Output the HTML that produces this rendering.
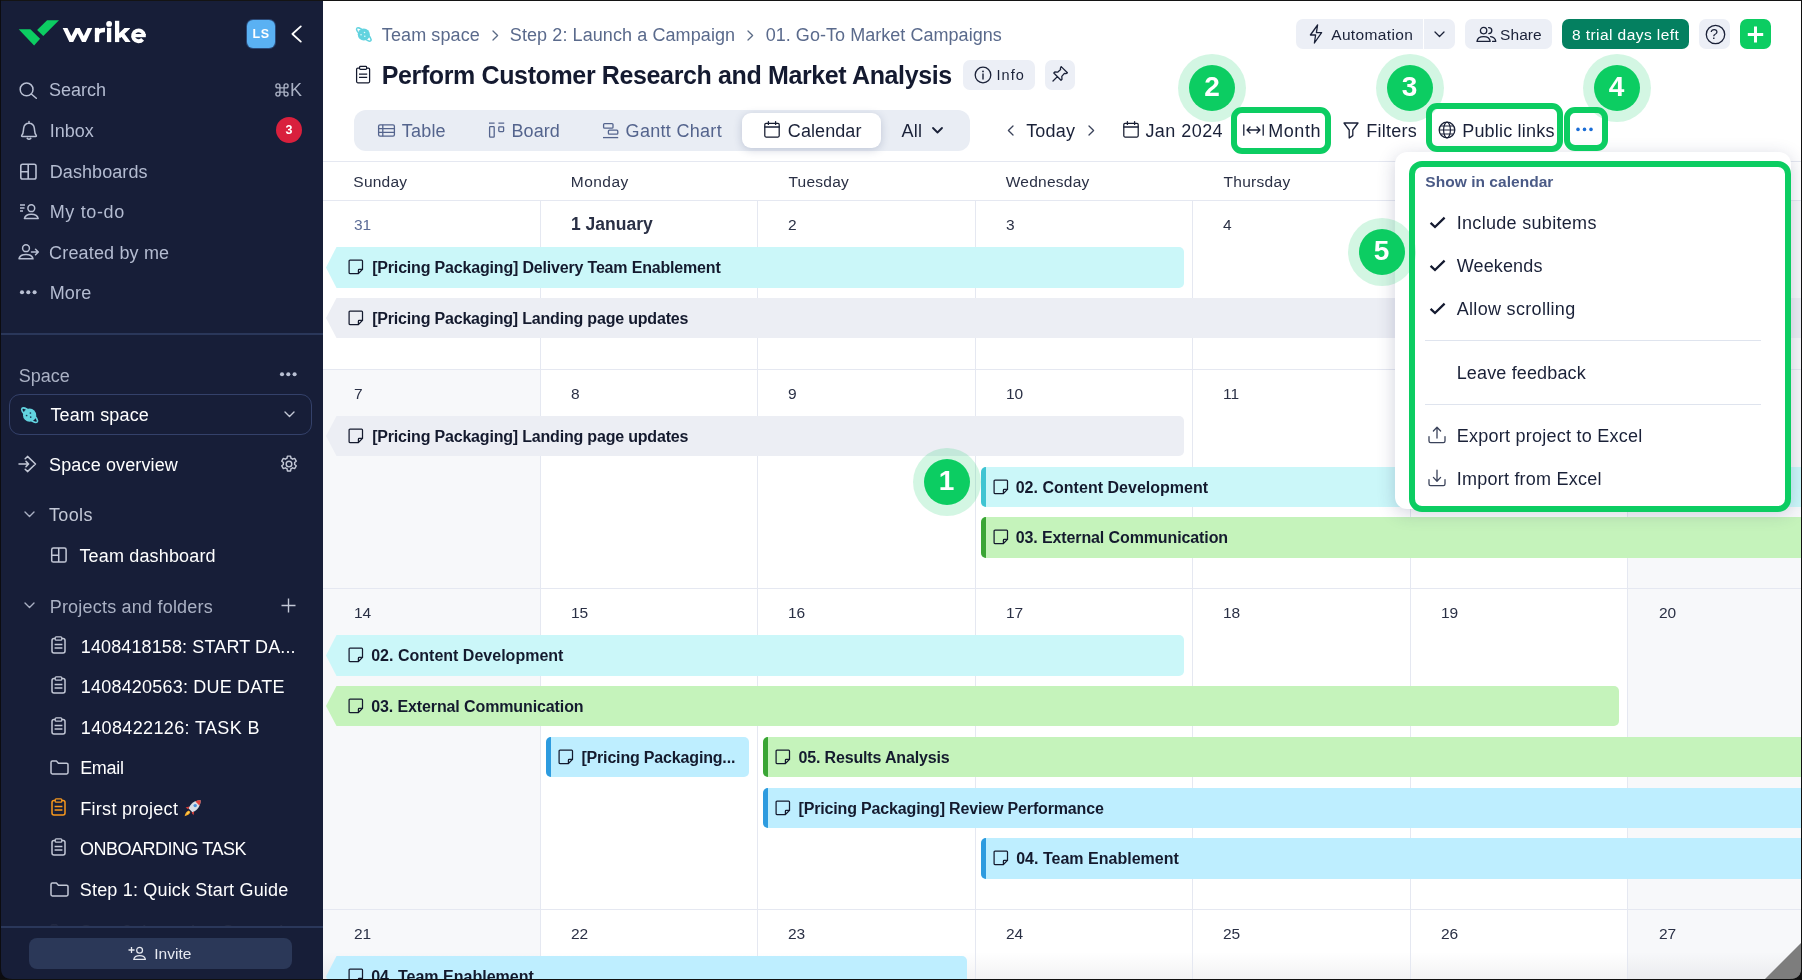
<!DOCTYPE html>
<html>
<head>
<meta charset="utf-8">
<title>Wrike</title>
<style>
*{box-sizing:border-box;margin:0;padding:0}
html,body{width:1802px;height:980px;overflow:hidden;background:#fff}
body{font-family:"Liberation Sans",sans-serif;position:relative;color:#1a2138}
.abs{position:absolute}
svg{display:block;overflow:visible}
.t{position:absolute;white-space:nowrap;line-height:1}
/* SIDEBAR */
#sb{will-change:transform;position:absolute;left:0;top:0;width:323px;height:980px;background:#171e38;overflow:hidden}
#sb .nav{position:absolute;left:49px;font-size:18px;color:#b4bcd1;white-space:nowrap;line-height:22px}
#sb .ni{position:absolute;left:19px}
#sb .it{position:absolute;left:80px;font-size:18px;color:#fff;white-space:nowrap;line-height:22px}
#sb .ii{position:absolute;left:50px}
/* MAIN */
#main{will-change:transform;position:absolute;left:0;top:0;width:1802px;height:980px;background:#fff;overflow:hidden}
.btn{position:absolute;background:#eceff6;border-radius:7px;height:30px}
.crumb{position:absolute;font-size:18px;color:#5a6a8c;white-space:nowrap;line-height:22px;top:24px}
.tab{position:absolute;font-size:18px;color:#54648d;white-space:nowrap;line-height:22px;top:120px}
.tb{position:absolute;font-size:18px;color:#1a2138;white-space:nowrap;line-height:22px;top:120px}
.wd{position:absolute;font-size:15.5px;color:#2a3045;white-space:nowrap;line-height:18px;top:173px}
.dn{position:absolute;font-size:15.5px;color:#2a3045;white-space:nowrap;line-height:18px}
.vl{position:absolute;width:1px;background:#e5e8f1;top:200px;height:780px}
.hl{position:absolute;height:1px;background:#e5e8f1;left:323px;width:1479px}
.ev{position:absolute;height:40px;font-size:16px;font-weight:bold;color:#141a2e;white-space:nowrap;line-height:42px;overflow:hidden}
.ev .ic{position:absolute;top:12px}
.ev .tx{position:absolute;top:0}
.cy{background:#cbf7f9}.gy{background:#eceef4}.gr{background:#c5f3bb}.bl{background:#beeeff}
.arrow{clip-path:polygon(10.5px 0,100% 0,100% 100%,10.5px 100%,0 50%)}
.rr{border-top-right-radius:5px;border-bottom-right-radius:5px}
.rl{border-top-left-radius:5px;border-bottom-left-radius:5px}
.num{position:absolute;width:68px;height:68px;border-radius:50%;background:rgba(12,206,98,.18)}
.num i{position:absolute;left:11px;top:11px;width:46px;height:46px;border-radius:50%;background:#0ccd62;color:#fff;font-style:normal;font-weight:bold;font-size:28px;line-height:44px;text-align:center}
.gbox{position:absolute;border:6px solid #0ccd62;border-radius:11px}
.mi{position:absolute;left:1457px;font-size:18px;color:#1a2138;white-space:nowrap;line-height:22px}
</style>
</head>
<body>
<div id="main">
<!-- weekend column tint -->
<div class="abs" style="left:323px;top:370px;width:217px;height:610px;background:#f7f8fa"></div>
<div class="abs" style="left:1628px;top:200px;width:174px;height:780px;background:#f7f8fa"></div>
<div class="abs" style="left:323px;top:952px;width:1479px;height:28px;background:linear-gradient(rgba(20,20,40,0),rgba(20,20,40,.055))"></div>
<!-- grid lines -->
<div class="hl" style="top:161px"></div>
<div class="hl" style="top:200px"></div>
<div class="hl" style="top:369px"></div>
<div class="hl" style="top:588px"></div>
<div class="hl" style="top:909px"></div>
<div class="vl" style="left:540px"></div>
<div class="vl" style="left:757px"></div>
<div class="vl" style="left:975px"></div>
<div class="vl" style="left:1192px"></div>
<div class="vl" style="left:1410px"></div>
<div class="vl" style="left:1627px"></div>
<div class="wd" style="left: 353.3px; letter-spacing: 0.24px;">Sunday</div>
<div class="wd" style="left: 570.8px; letter-spacing: 0.47px;">Monday</div>
<div class="wd" style="left: 788.4px; letter-spacing: 0.25px;">Tuesday</div>
<div class="wd" style="left: 1005.7px; letter-spacing: 0.26px;">Wednesday</div>
<div class="wd" style="left: 1223.5px; letter-spacing: 0.3px;">Thursday</div>
<div class="dn" style="left:354px;top:216px;color:#5b6b96">31</div>
<div class="dn" style="left:571px;top:216px;font-weight:bold;font-size:17.5px;top:215px">1 January</div>
<div class="dn" style="left:788px;top:216px">2</div>
<div class="dn" style="left:1006px;top:216px">3</div>
<div class="dn" style="left:1223px;top:216px">4</div>
<div class="dn" style="left:354px;top:385px">7</div>
<div class="dn" style="left:571px;top:385px">8</div>
<div class="dn" style="left:788px;top:385px">9</div>
<div class="dn" style="left:1006px;top:385px">10</div>
<div class="dn" style="left:1223px;top:385px">11</div>
<div class="dn" style="left:354px;top:604px">14</div>
<div class="dn" style="left:571px;top:604px">15</div>
<div class="dn" style="left:788px;top:604px">16</div>
<div class="dn" style="left:1006px;top:604px">17</div>
<div class="dn" style="left:1223px;top:604px">18</div>
<div class="dn" style="left:1441px;top:604px">19</div>
<div class="dn" style="left:1659px;top:604px">20</div>
<div class="dn" style="left:354px;top:925px">21</div>
<div class="dn" style="left:571px;top:925px">22</div>
<div class="dn" style="left:788px;top:925px">23</div>
<div class="dn" style="left:1006px;top:925px">24</div>
<div class="dn" style="left:1223px;top:925px">25</div>
<div class="dn" style="left:1441px;top:925px">26</div>
<div class="dn" style="left:1659px;top:925px">27</div>
<div class="ev cy arrow rr" style="left:326px;top:247px;width:858px;height:41px"><svg class="ic" style="left:22px" width="16" height="16" viewBox="0 0 16 16"><path d="M2 1.1 H13.6 Q14.5 1.1 14.5 2 V10.4 L10.4 14.5 H2 Q1.1 14.5 1.1 13.6 V2 Q1.1 1.1 2 1.1 Z" fill="none" stroke="#141a2e" stroke-width="1.25" stroke-linejoin="round"/><path d="M14.4 10.4 H11.2 Q10.4 10.4 10.4 11.2 V14.4" fill="none" stroke="#141a2e" stroke-width="1.25"/></svg><div class="tx" style="left: 46.2px; letter-spacing: -0.18px;">[Pricing Packaging] Delivery Team Enablement</div></div>
<div class="ev gy arrow" style="left:326px;top:298px;width:1476px;height:40px"><svg class="ic" style="left:22px" width="16" height="16" viewBox="0 0 16 16"><path d="M2 1.1 H13.6 Q14.5 1.1 14.5 2 V10.4 L10.4 14.5 H2 Q1.1 14.5 1.1 13.6 V2 Q1.1 1.1 2 1.1 Z" fill="none" stroke="#141a2e" stroke-width="1.25" stroke-linejoin="round"/><path d="M14.4 10.4 H11.2 Q10.4 10.4 10.4 11.2 V14.4" fill="none" stroke="#141a2e" stroke-width="1.25"/></svg><div class="tx" style="left: 46.2px; letter-spacing: -0.19px;">[Pricing Packaging] Landing page updates</div></div>
<div class="ev gy arrow rr" style="left:326px;top:416px;width:858px;height:40px"><svg class="ic" style="left:22px" width="16" height="16" viewBox="0 0 16 16"><path d="M2 1.1 H13.6 Q14.5 1.1 14.5 2 V10.4 L10.4 14.5 H2 Q1.1 14.5 1.1 13.6 V2 Q1.1 1.1 2 1.1 Z" fill="none" stroke="#141a2e" stroke-width="1.25" stroke-linejoin="round"/><path d="M14.4 10.4 H11.2 Q10.4 10.4 10.4 11.2 V14.4" fill="none" stroke="#141a2e" stroke-width="1.25"/></svg><div class="tx" style="left: 46.2px; letter-spacing: -0.19px;">[Pricing Packaging] Landing page updates</div></div>
<div class="ev cy rl" style="left:981px;top:467px;width:821px;height:40px"><div class="abs" style="left:0;top:0;width:5px;height:100%;background:#3fc4d2"></div><svg class="ic" style="left:12px" width="16" height="16" viewBox="0 0 16 16"><path d="M2 1.1 H13.6 Q14.5 1.1 14.5 2 V10.4 L10.4 14.5 H2 Q1.1 14.5 1.1 13.6 V2 Q1.1 1.1 2 1.1 Z" fill="none" stroke="#141a2e" stroke-width="1.25" stroke-linejoin="round"/><path d="M14.4 10.4 H11.2 Q10.4 10.4 10.4 11.2 V14.4" fill="none" stroke="#141a2e" stroke-width="1.25"/></svg><div class="tx" style="left: 34.7px; letter-spacing: 0.02px;">02. Content Development</div></div>
<div class="ev gr rl" style="left:981px;top:517px;width:821px;height:41px"><div class="abs" style="left:0;top:0;width:5px;height:100%;background:#3aa535"></div><svg class="ic" style="left:12px" width="16" height="16" viewBox="0 0 16 16"><path d="M2 1.1 H13.6 Q14.5 1.1 14.5 2 V10.4 L10.4 14.5 H2 Q1.1 14.5 1.1 13.6 V2 Q1.1 1.1 2 1.1 Z" fill="none" stroke="#141a2e" stroke-width="1.25" stroke-linejoin="round"/><path d="M14.4 10.4 H11.2 Q10.4 10.4 10.4 11.2 V14.4" fill="none" stroke="#141a2e" stroke-width="1.25"/></svg><div class="tx" style="left: 34.7px; letter-spacing: -0.11px;">03. External Communication</div></div>
<div class="ev cy arrow rr" style="left:326px;top:635px;width:858px;height:41px"><svg class="ic" style="left:22px" width="16" height="16" viewBox="0 0 16 16"><path d="M2 1.1 H13.6 Q14.5 1.1 14.5 2 V10.4 L10.4 14.5 H2 Q1.1 14.5 1.1 13.6 V2 Q1.1 1.1 2 1.1 Z" fill="none" stroke="#141a2e" stroke-width="1.25" stroke-linejoin="round"/><path d="M14.4 10.4 H11.2 Q10.4 10.4 10.4 11.2 V14.4" fill="none" stroke="#141a2e" stroke-width="1.25"/></svg><div class="tx" style="left: 45.2px; letter-spacing: 0.01px;">02. Content Development</div></div>
<div class="ev gr arrow rr" style="left:326px;top:686px;width:1293px;height:40px"><svg class="ic" style="left:22px" width="16" height="16" viewBox="0 0 16 16"><path d="M2 1.1 H13.6 Q14.5 1.1 14.5 2 V10.4 L10.4 14.5 H2 Q1.1 14.5 1.1 13.6 V2 Q1.1 1.1 2 1.1 Z" fill="none" stroke="#141a2e" stroke-width="1.25" stroke-linejoin="round"/><path d="M14.4 10.4 H11.2 Q10.4 10.4 10.4 11.2 V14.4" fill="none" stroke="#141a2e" stroke-width="1.25"/></svg><div class="tx" style="left: 45.2px; letter-spacing: -0.11px;">03. External Communication</div></div>
<div class="ev bl rr rl" style="left:546px;top:737px;width:203px;height:40px"><div class="abs" style="left:0;top:0;width:5px;height:100%;background:#2d9bdf"></div><svg class="ic" style="left:12px" width="16" height="16" viewBox="0 0 16 16"><path d="M2 1.1 H13.6 Q14.5 1.1 14.5 2 V10.4 L10.4 14.5 H2 Q1.1 14.5 1.1 13.6 V2 Q1.1 1.1 2 1.1 Z" fill="none" stroke="#141a2e" stroke-width="1.25" stroke-linejoin="round"/><path d="M14.4 10.4 H11.2 Q10.4 10.4 10.4 11.2 V14.4" fill="none" stroke="#141a2e" stroke-width="1.25"/></svg><div class="tx" style="left: 35.4px; letter-spacing: -0.17px;">[Pricing Packaging...</div></div>
<div class="ev gr rl" style="left:763px;top:737px;width:1039px;height:40px"><div class="abs" style="left:0;top:0;width:5px;height:100%;background:#3aa535"></div><svg class="ic" style="left:12px" width="16" height="16" viewBox="0 0 16 16"><path d="M2 1.1 H13.6 Q14.5 1.1 14.5 2 V10.4 L10.4 14.5 H2 Q1.1 14.5 1.1 13.6 V2 Q1.1 1.1 2 1.1 Z" fill="none" stroke="#141a2e" stroke-width="1.25" stroke-linejoin="round"/><path d="M14.4 10.4 H11.2 Q10.4 10.4 10.4 11.2 V14.4" fill="none" stroke="#141a2e" stroke-width="1.25"/></svg><div class="tx" style="left: 35.5px; letter-spacing: -0.16px;">05. Results Analysis</div></div>
<div class="ev bl rl" style="left:763px;top:788px;width:1039px;height:40px"><div class="abs" style="left:0;top:0;width:5px;height:100%;background:#2d9bdf"></div><svg class="ic" style="left:12px" width="16" height="16" viewBox="0 0 16 16"><path d="M2 1.1 H13.6 Q14.5 1.1 14.5 2 V10.4 L10.4 14.5 H2 Q1.1 14.5 1.1 13.6 V2 Q1.1 1.1 2 1.1 Z" fill="none" stroke="#141a2e" stroke-width="1.25" stroke-linejoin="round"/><path d="M14.4 10.4 H11.2 Q10.4 10.4 10.4 11.2 V14.4" fill="none" stroke="#141a2e" stroke-width="1.25"/></svg><div class="tx" style="left: 35.5px; letter-spacing: -0.16px;">[Pricing Packaging] Review Performance</div></div>
<div class="ev bl rl" style="left:981px;top:838px;width:821px;height:41px"><div class="abs" style="left:0;top:0;width:5px;height:100%;background:#2d9bdf"></div><svg class="ic" style="left:12px" width="16" height="16" viewBox="0 0 16 16"><path d="M2 1.1 H13.6 Q14.5 1.1 14.5 2 V10.4 L10.4 14.5 H2 Q1.1 14.5 1.1 13.6 V2 Q1.1 1.1 2 1.1 Z" fill="none" stroke="#141a2e" stroke-width="1.25" stroke-linejoin="round"/><path d="M14.4 10.4 H11.2 Q10.4 10.4 10.4 11.2 V14.4" fill="none" stroke="#141a2e" stroke-width="1.25"/></svg><div class="tx" style="left: 35.2px; letter-spacing: 0.01px;">04. Team Enablement</div></div>
<div class="ev bl arrow rr" style="left:326px;top:956px;width:641px;height:41px"><svg class="ic" style="left:22px" width="16" height="16" viewBox="0 0 16 16"><path d="M2 1.1 H13.6 Q14.5 1.1 14.5 2 V10.4 L10.4 14.5 H2 Q1.1 14.5 1.1 13.6 V2 Q1.1 1.1 2 1.1 Z" fill="none" stroke="#141a2e" stroke-width="1.25" stroke-linejoin="round"/><path d="M14.4 10.4 H11.2 Q10.4 10.4 10.4 11.2 V14.4" fill="none" stroke="#141a2e" stroke-width="1.25"/></svg><div class="tx" style="left: 45.2px; letter-spacing: 0.01px;">04. Team Enablement</div></div>
<svg class="abs" style="left:355px;top:26px" width="16.5" height="16.5" viewBox="0 0 18 18"><ellipse cx="9.6" cy="9.2" rx="10.2" ry="3.1" transform="rotate(42 9.6 9.2)" fill="none" stroke="#62d3df" stroke-width="1.5"/><circle cx="9.6" cy="9.2" r="6.6" fill="#62d3df"/><circle cx="10.4" cy="7" r="0.85" fill="#e8fafc"/><circle cx="6.6" cy="9.5" r="0.85" fill="#e8fafc"/><circle cx="10.7" cy="11.1" r="0.85" fill="#e8fafc"/></svg><div class="crumb" style="left: 381.8px; letter-spacing: 0.11px;">Team space</div><svg class="abs" style="left:492px;top:30px" width="7" height="11" viewBox="0 0 7 11"><path d="M1 1 L5.6 5.5 L1 10" fill="none" stroke="#5b6b86" stroke-width="1.3" stroke-linecap="round" stroke-linejoin="round"/></svg><div class="crumb" style="left: 509.8px; letter-spacing: 0.09px;">Step 2: Launch a Campaign</div><svg class="abs" style="left:747px;top:30px" width="7" height="11" viewBox="0 0 7 11"><path d="M1 1 L5.6 5.5 L1 10" fill="none" stroke="#5b6b86" stroke-width="1.3" stroke-linecap="round" stroke-linejoin="round"/></svg><div class="crumb" style="left: 765.7px; letter-spacing: 0.04px;">01. Go-To Market Campaigns</div><svg class="abs" style="left:355px;top:65px" width="16" height="19" viewBox="0 0 16 19"><rect x="1.6" y="3" width="13" height="14.8" rx="1.2" fill="none" stroke="#141a2e" stroke-width="1.25"/><rect x="4.6" y="1.4" width="7" height="3" rx="0.8" fill="#fff" stroke="#141a2e" stroke-width="1.2"/><path d="M4 9 H12.2 M4 12.4 H12.2" stroke="#141a2e" stroke-width="1.25"/></svg><div class="t" style="left: 381.7px; top: 63px; font-size: 25px; letter-spacing: -0.37px; font-weight: bold; color: rgb(20, 26, 48);">Perform Customer Research and Market Analysis</div><div class="btn" style="left:963px;top:59.5px;width:72px"></div><svg class="abs" style="left:974px;top:66px" width="18" height="18" viewBox="0 0 18 18"><circle cx="9" cy="9" r="7.8" fill="none" stroke="#1a2138" stroke-width="1.3"/><path d="M9 8 V13" stroke="#1a2138" stroke-width="1.4" stroke-linecap="round"/><circle cx="9" cy="5.4" r="0.9" fill="#1a2138"/></svg><div class="t" style="left: 996.5px; top: 68px; font-size: 14.5px; color: rgb(26, 33, 56); letter-spacing: 1.08px;">Info</div><div class="btn" style="left:1045px;top:59.5px;width:30px"></div><svg class="abs" style="left:1051px;top:65px" width="18" height="19" viewBox="0 0 18 19"><path d="M10.2 1.6 L16.4 7.8 L14.8 8.6 L13.4 8.4 L10.8 11.4 L11 14.2 L10 15.2 L2.8 8 L3.8 7 L6.6 7.2 L9.6 4.6 L9.4 3.2 Z M6.4 11.6 L2 16" fill="none" stroke="#1a2138" stroke-width="1.3" stroke-linejoin="round" stroke-linecap="round"/></svg><div class="btn" style="left:1296px;top:19px;width:127px;border-radius:7px 0 0 7px"></div><div class="btn" style="left:1424px;top:19px;width:31px;border-radius:0 7px 7px 0"></div><svg class="abs" style="left:1309px;top:24px" width="14" height="20" viewBox="0 0 14 20"><path d="M8.6 1 L1.4 11 H6.6 L5.4 19 L12.6 8.6 H7.4 Z" fill="none" stroke="#1a2138" stroke-width="1.3" stroke-linejoin="round"/></svg><div class="t" style="left: 1331.2px; top: 27px; font-size: 15.5px; color: rgb(26, 33, 56); letter-spacing: 0.36px;">Automation</div><svg class="abs" style="left:1434px;top:31px" width="11" height="7" viewBox="0 0 11 7"><path d="M1 1 L5.5 5.5 L10 1" fill="none" stroke="#1a2138" stroke-width="1.3" stroke-linecap="round" stroke-linejoin="round"/></svg><div class="btn" style="left:1465px;top:19px;width:87px"></div><svg class="abs" style="left:1476px;top:26px" width="21" height="17" viewBox="0 0 21 17"><circle cx="7.6" cy="4.6" r="3.2" fill="none" stroke="#1a2138" stroke-width="1.3"/><path d="M1 15.4 C1.4 12 4.2 10.6 7.6 10.6 C11 10.6 13.8 12 14.2 15.4 Z" fill="none" stroke="#1a2138" stroke-width="1.3" stroke-linejoin="round"/><path d="M12.6 1.6 C14.6 1.6 15.8 3 15.8 4.6 C15.8 6.2 14.6 7.6 12.8 7.6 M14.6 10.6 C17.4 11 19.4 12.4 19.8 15.4 H16.6" fill="none" stroke="#1a2138" stroke-width="1.3" stroke-linecap="round" stroke-linejoin="round"/></svg><div class="t" style="left: 1500px; top: 27px; font-size: 15.5px; color: rgb(26, 33, 56); letter-spacing: 0.09px;">Share</div><div class="btn" style="left:1562px;top:19px;width:127px;background:#048060"></div><div class="t" style="left: 1571.9px; top: 27px; font-size: 15.5px; color: rgb(255, 255, 255); letter-spacing: 0.44px;">8 trial days left</div><div class="btn" style="left:1699px;top:19px;width:31px"></div><svg class="abs" style="left:1704.5px;top:23.5px" width="21" height="21" viewBox="0 0 21 21"><circle cx="10.5" cy="10.5" r="9.2" fill="none" stroke="#1a2138" stroke-width="1.3"/></svg><div class="t" style="left:1710px;top:27px;font-size:14.5px;color:#1a2138">?</div><div class="btn" style="left:1740px;top:19px;width:31px;background:#0ccd62"></div><svg class="abs" style="left:1747px;top:25.5px" width="17" height="17" viewBox="0 0 17 17"><path d="M8.5 0.6 V16.4 M0.8 8.5 H16.2" stroke="#fff" stroke-width="3"/></svg><div class="abs" style="left:354px;top:110px;width:616px;height:41px;border-radius:12px;background:#e9edf4"></div><div class="abs" style="left:742px;top:113px;width:139px;height:35px;border-radius:9px;background:#fff;box-shadow:0 2px 8px rgba(40,60,110,.22)"></div><svg class="abs" style="left:377px;top:123px" width="19" height="15" viewBox="0 0 19 15"><rect x="1.6" y="1.8" width="15.8" height="11.4" rx="1.4" fill="none" stroke="#54648d" stroke-width="1.3"/><path d="M1.6 5.6 H17.4 M1.6 9.4 H17.4 M5.8 1.8 V13.2" stroke="#54648d" stroke-width="1.3"/></svg><div class="tab" style="left: 401.8px; letter-spacing: 0.19px;">Table</div><svg class="abs" style="left:488px;top:122px" width="18" height="17" viewBox="0 0 18 17"><path d="M1 1.2 H6.6 M10.4 1.2 H16.2" stroke="#54648d" stroke-width="1.3"/><rect x="1.6" y="4.6" width="4.6" height="10.6" rx="0.8" fill="none" stroke="#54648d" stroke-width="1.3"/><rect x="10.8" y="4.8" width="4.8" height="4.8" rx="0.8" fill="none" stroke="#54648d" stroke-width="1.3"/></svg><div class="tab" style="left: 511.4px; letter-spacing: 0.11px;">Board</div><svg class="abs" style="left:602px;top:122px" width="18" height="17" viewBox="0 0 18 17"><rect x="1.6" y="1.6" width="9.4" height="4.6" rx="1" fill="none" stroke="#54648d" stroke-width="1.3"/><rect x="6.4" y="8.2" width="9.4" height="4" rx="1" fill="none" stroke="#54648d" stroke-width="1.3"/><path d="M1 15.6 H16.2" stroke="#54648d" stroke-width="1.3"/></svg><div class="tab" style="left: 625.6px; letter-spacing: 0.3px;">Gantt Chart</div><svg class="abs" style="left:764px;top:121px" width="16" height="17" viewBox="0 0 16 17"><rect x="0.8" y="2.4" width="14.4" height="13.6" rx="1.2" fill="none" stroke="#141a2e" stroke-width="1.25"/><path d="M0.8 6 H15.2 M4.4 0.6 V3.4 M11.6 0.6 V3.4" stroke="#1a2138" stroke-width="1.3" stroke-linecap="round"/></svg><div class="tab" style="left: 787.8px; color: rgb(26, 33, 56); letter-spacing: 0.08px;">Calendar</div><div class="tab" style="left: 901.5px; color: rgb(26, 33, 56); letter-spacing: 0.19px;">All</div><svg class="abs" style="left:932px;top:127px" width="11" height="7" viewBox="0 0 11 7"><path d="M1 1 L5.5 5.5 L10 1" fill="none" stroke="#1a2138" stroke-width="1.8" stroke-linecap="round" stroke-linejoin="round"/></svg><svg class="abs" style="left:1007px;top:125px" width="7" height="11" viewBox="0 0 7 11"><path d="M6 1 L1.4 5.5 L6 10" fill="none" stroke="#3a425a" stroke-width="1.3" stroke-linecap="round" stroke-linejoin="round"/></svg><div class="tb" style="left: 1026.2px; letter-spacing: 0.17px;">Today</div><svg class="abs" style="left:1088px;top:125px" width="7" height="11" viewBox="0 0 7 11"><path d="M1 1 L5.6 5.5 L1 10" fill="none" stroke="#3a425a" stroke-width="1.3" stroke-linecap="round" stroke-linejoin="round"/></svg><svg class="abs" style="left:1123px;top:121px" width="16" height="17" viewBox="0 0 16 17"><rect x="0.8" y="2.4" width="14.4" height="13.6" rx="1.2" fill="none" stroke="#141a2e" stroke-width="1.25"/><path d="M0.8 6 H15.2 M4.4 0.6 V3.4 M11.6 0.6 V3.4" stroke="#1a2138" stroke-width="1.3" stroke-linecap="round"/></svg><div class="tb" style="left: 1145.4px; letter-spacing: 0.45px;">Jan 2024</div><svg class="abs" style="left:1243px;top:124px" width="21" height="12" viewBox="0 0 21 12"><path d="M0.8 0.8 V11.2 M20.2 0.8 V11.2 M4 6 H17 M7 3 L4 6 L7 9 M14 3 L17 6 L14 9" fill="none" stroke="#1a2138" stroke-width="1.3" stroke-linecap="round" stroke-linejoin="round"/></svg><div class="tb" style="left: 1268.3px; letter-spacing: 0.53px;">Month</div><svg class="abs" style="left:1343px;top:122px" width="16" height="17" viewBox="0 0 16 17"><path d="M1 1 H15 L9.8 8 V13.6 L6.2 16 V8 Z" fill="none" stroke="#1a2138" stroke-width="1.3" stroke-linejoin="round"/></svg><div class="tb" style="left: 1366.2px; letter-spacing: 0.26px;">Filters</div><svg class="abs" style="left:1438px;top:121px" width="18" height="18" viewBox="0 0 18 18"><circle cx="9" cy="9" r="7.8" fill="none" stroke="#1a2138" stroke-width="1.3"/><ellipse cx="9" cy="9" rx="3.4" ry="7.8" fill="none" stroke="#1a2138" stroke-width="1.2"/><path d="M1.2 9 H16.8 M2.4 5 H15.6 M2.4 13 H15.6" stroke="#1a2138" stroke-width="1.2"/></svg><div class="tb" style="left: 1462.2px; letter-spacing: 0.2px;">Public links</div><svg class="abs" style="left:1575.5px;top:127.3px" width="17" height="5" viewBox="0 0 17 5"><circle cx="2" cy="2.4" r="1.8" fill="#1a6dd6"/><circle cx="8.5" cy="2.4" r="1.8" fill="#1a6dd6"/><circle cx="15" cy="2.4" r="1.8" fill="#1a6dd6"/></svg><div class="abs" style="left:1395px;top:152px;width:396px;height:357px;border-radius:12px;background:#fff;box-shadow:0 4px 18px rgba(40,50,100,.22)"></div><div class="t" style="left: 1425.3px; top: 174px; font-size: 15.5px; font-weight: bold; color: rgb(74, 90, 134); letter-spacing: 0.04px;">Show in calendar</div><svg class="abs" style="left:1429px;top:216px" width="17" height="13" viewBox="0 0 17 13"><path d="M1.6 6.8 L6 11 L15.6 1.6" fill="none" stroke="#141a30" stroke-width="2.3" stroke-linejoin="miter"/></svg><div class="mi" style="top: 212px; letter-spacing: 0.31px; left: 1456.7px;">Include subitems</div><svg class="abs" style="left:1429px;top:259px" width="17" height="13" viewBox="0 0 17 13"><path d="M1.6 6.8 L6 11 L15.6 1.6" fill="none" stroke="#141a30" stroke-width="2.3" stroke-linejoin="miter"/></svg><div class="mi" style="top: 255px; letter-spacing: 0.14px; left: 1456.7px;">Weekends</div><svg class="abs" style="left:1429px;top:302px" width="17" height="13" viewBox="0 0 17 13"><path d="M1.6 6.8 L6 11 L15.6 1.6" fill="none" stroke="#141a30" stroke-width="2.3" stroke-linejoin="miter"/></svg><div class="mi" style="top: 298px; letter-spacing: 0.32px; left: 1456.7px;">Allow scrolling</div><div class="abs" style="left:1425px;top:340px;width:336px;height:1px;background:#dfe4ee"></div><div class="mi" style="top: 362px; letter-spacing: 0.15px; left: 1456.7px;">Leave feedback</div><div class="abs" style="left:1425px;top:404px;width:336px;height:1px;background:#dfe4ee"></div><svg class="abs" style="left:1428px;top:426px" width="18" height="18" viewBox="0 0 18 18"><path d="M1 10.6 V15 Q1 16.6 2.6 16.6 H15.4 Q17 16.6 17 15 V10.6 M9 12 V1.4 M5.4 5 L9 1.2 L12.6 5" fill="none" stroke="#3a425a" stroke-width="1.3" stroke-linecap="round" stroke-linejoin="round"/></svg><div class="mi" style="top: 425px; letter-spacing: 0.25px; left: 1456.7px;">Export project to Excel</div><svg class="abs" style="left:1428px;top:469px" width="18" height="18" viewBox="0 0 18 18"><path d="M1 10.6 V15 Q1 16.6 2.6 16.6 H15.4 Q17 16.6 17 15 V10.6 M9 1.2 V12 M5.4 8.4 L9 12.2 L12.6 8.4" fill="none" stroke="#3a425a" stroke-width="1.3" stroke-linecap="round" stroke-linejoin="round"/></svg><div class="mi" style="top: 468px; letter-spacing: 0.24px; left: 1456.7px;">Import from Excel</div><div class="gbox" style="left:1231px;top:107px;width:100px;height:47px"></div><div class="gbox" style="left:1426px;top:103px;width:136.5px;height:49px"></div><div class="gbox" style="left:1564px;top:107px;width:44px;height:43.5px"></div><div class="gbox" style="left:1409px;top:161px;width:382px;height:351px;border-radius:13px"></div><div class="num" style="left:912.5px;top:447.5px"><i>1</i></div><div class="num" style="left:1178px;top:53.5px"><i>2</i></div><div class="num" style="left:1375.5px;top:53.5px"><i>3</i></div><div class="num" style="left:1582.5px;top:53.5px"><i>4</i></div><div class="num" style="left:1347.5px;top:218px"><i>5</i></div></div>
<div id="sb">
<!-- logo -->
<svg class="abs" style="left:0;top:0" width="160" height="60" viewBox="0 0 160 60">
<path d="M18.7 29.2 H30.4 L40.1 38.7 L34.1 45.4 Z" fill="#0ccd62"/>
<path d="M47.1 20.2 H59 L43.3 36 L37.1 30 Z" fill="#0ccd62"/>
<defs><clipPath id="wc"><rect x="60" y="27.9" width="90" height="14.2"/></clipPath></defs>
<g fill="none" stroke="#fff" stroke-width="4.3">
<path clip-path="url(#wc)" d="M64.6 27 L71.3 41 L77.6 28.6 L83.9 41 L90.4 27" stroke-linejoin="miter" stroke-miterlimit="10"/>
<path d="M97 42.1 V27.9"/>
<path d="M97 35.5 C97 31.5 100 29.8 105 30"/>
<path d="M109.1 42.1 V27.9"/>
<path d="M117.1 42.1 V20.8"/>
<path clip-path="url(#wc)" d="M118.5 36.8 L128.6 27 M121.8 33.8 L128.8 43"/>
<path d="M143.9 35.2 A5.45 5.45 0 1 0 142.6 39.4" stroke-width="3.9"/>
<path d="M133.5 35.6 H145.8" stroke-width="3.2"/>
</g>
<circle cx="109.1" cy="23.9" r="2.9" fill="#fff"/>
</svg>
<div class="abs" style="left:246px;top:19px;width:30px;height:30px;border-radius:7px;background:#2b4a78"></div>
<div class="abs" style="left:247px;top:20px;width:28px;height:28px;border-radius:6px;background:#5ab1f3;color:#fff;font-weight:bold;font-size:12.5px;line-height:29px;text-align:center;letter-spacing:.4px">LS</div>
<svg class="abs" style="left:290px;top:24px" width="13" height="20" viewBox="0 0 13 20"><path d="M10.8 2.4 L2.4 10 L10.8 17.6" fill="none" stroke="#fff" stroke-width="1.8" stroke-linecap="round" stroke-linejoin="round"/></svg>

<!-- nav -->
<svg class="ni" style="top:80px" width="20" height="20" viewBox="0 0 20 20"><circle cx="7.6" cy="9.4" r="6.4" fill="none" stroke="#b9c0d3" stroke-width="1.5"/><path d="M12.3 14 L17.3 18.3" stroke="#b9c0d3" stroke-width="1.5" stroke-linecap="round"/></svg>
<div class="nav" style="top: 79px; letter-spacing: 0.03px; left: 48.9px;">Search</div>
<svg class="abs" style="left:275px;top:83px" width="14" height="14" viewBox="0 0 14 14"><path d="M4.9 4.9 H9.1 V9.1 H4.9 Z M4.9 4.9 H2.9 a2 2 0 1 1 2 -2 Z M9.1 4.9 V2.9 a2 2 0 1 1 2 2 Z M9.1 9.1 H11.1 a2 2 0 1 1 -2 2 Z M4.9 9.1 V11.1 a2 2 0 1 1 -2 -2 Z" fill="none" stroke="#aab1c4" stroke-width="1.35"/></svg><div class="t" style="left:290px;top:81px;font-size:18px;color:#aab1c4">K</div>

<svg class="ni" style="top:120px" width="20" height="22" viewBox="0 0 20 22"><path d="M10 1.4 V3 M2.8 15.3 C4.6 13.4 4.3 11 4.6 8.6 C5 5.5 7.2 3.3 10 3.3 C12.8 3.3 15 5.5 15.4 8.6 C15.7 11 15.4 13.4 17.2 15.3 Q17.8 16.5 16.6 16.5 H3.4 Q2.2 16.5 2.8 15.3 Z M8.2 18.4 Q10 20 11.8 18.4" fill="none" stroke="#b9c0d3" stroke-width="1.5" stroke-linecap="round" stroke-linejoin="round"/></svg>
<div class="nav" style="top:120px; letter-spacing: 0.01px; left: 49.7px;">Inbox</div>
<div class="abs" style="left:276px;top:117px;width:26px;height:26px;border-radius:50%;background:#d9203d;color:#fff;font-weight:bold;font-size:12.5px;line-height:26px;text-align:center">3</div>

<svg class="ni" style="top:162px" width="19" height="19" viewBox="0 0 19 19"><rect x="1.8" y="2.2" width="15.2" height="14.8" rx="1.8" fill="none" stroke="#b9c0d3" stroke-width="1.6"/><path d="M9.2 2.2 V17 M1.8 9.8 H9.2" stroke="#b9c0d3" stroke-width="1.6"/></svg>
<div class="nav" style="top:161px; letter-spacing: 0.09px; left: 49.7px;">Dashboards</div>

<svg class="ni" style="top:203px" width="21" height="18" viewBox="0 0 21 18"><path d="M1 2 H6 M1 5 H5.5 M1 8 H4" stroke="#b9c0d3" stroke-width="1.5"/><circle cx="12.3" cy="5.2" r="3.4" fill="none" stroke="#b9c0d3" stroke-width="1.5"/><path d="M5.4 15.6 C6 12.4 9 11.2 12.3 11.2 C15.6 11.2 18.6 12.4 19.2 15.6 Z" fill="none" stroke="#b9c0d3" stroke-width="1.5" stroke-linejoin="round"/></svg>
<div class="nav" style="top: 201px; letter-spacing: 0.65px; left: 49.7px;">My to-do</div>

<svg class="ni" style="top:243px;left:18px" width="22" height="18" viewBox="0 0 22 18"><circle cx="8" cy="5.2" r="3.4" fill="none" stroke="#b9c0d3" stroke-width="1.5"/><path d="M1 15.8 C1.6 12.6 4.7 11.4 8 11.4 C11.3 11.4 14.4 12.6 15 15.8 Z" fill="none" stroke="#b9c0d3" stroke-width="1.5" stroke-linejoin="round"/><path d="M13.5 9 H20 M17.5 6.2 L20.3 9 L17.5 11.8" fill="none" stroke="#b9c0d3" stroke-width="1.5" stroke-linecap="round" stroke-linejoin="round"/></svg>
<div class="nav" style="top: 242px; letter-spacing: 0.16px; left: 49.1px;">Created by me</div>

<svg class="ni" style="top:290px;left:20px" width="18" height="5" viewBox="0 0 18 5"><circle cx="2" cy="2.2" r="2.05" fill="#b9c0d3"/><circle cx="8.3" cy="2.2" r="2.05" fill="#b9c0d3"/><circle cx="14.6" cy="2.2" r="2.05" fill="#b9c0d3"/></svg>
<div class="nav" style="top: 282px; letter-spacing: 0.17px; left: 49.7px;">More</div>

<div class="abs" style="left:0;top:333px;width:323px;height:2px;background:#2a375a"></div>

<div class="nav" style="left: 18.8px; top:365px; color: rgb(170, 177, 196); letter-spacing: -0.01px;">Space</div>
<svg class="abs" style="left:280px;top:372px" width="18" height="5" viewBox="0 0 18 5"><circle cx="2" cy="2.2" r="2.05" fill="#b9c0d3"/><circle cx="8.3" cy="2.2" r="2.05" fill="#b9c0d3"/><circle cx="14.6" cy="2.2" r="2.05" fill="#b9c0d3"/></svg>

<div class="abs" style="left:9px;top:394px;width:303px;height:41px;border:1.5px solid #34416a;border-radius:11px;background:#171e38"></div>
<svg class="abs" style="left:20px;top:406px" width="18" height="18" viewBox="0 0 18 18"><ellipse cx="9.6" cy="9.2" rx="10.2" ry="3.1" transform="rotate(42 9.6 9.2)" fill="none" stroke="#62d3df" stroke-width="1.5"/><circle cx="9.6" cy="9.2" r="6.6" fill="#62d3df"/><circle cx="10.4" cy="7" r="0.85" fill="#1d3a55"/><circle cx="6.6" cy="9.5" r="0.85" fill="#1d3a55"/><circle cx="10.7" cy="11.1" r="0.85" fill="#1d3a55"/></svg>
<div class="nav" style="left: 50.4px; top: 404px; color: rgb(255, 255, 255); letter-spacing: 0.15px;">Team space</div>
<svg class="abs" style="left:284px;top:411px" width="11" height="7" viewBox="0 0 11 7"><path d="M1 1 L5.5 5.5 L10 1" fill="none" stroke="#c3c8d6" stroke-width="1.4" stroke-linecap="round" stroke-linejoin="round"/></svg>

<svg class="abs" style="left:18px;top:455px" width="21" height="18" viewBox="0 0 21 18"><path d="M9.5 1.4 L17.5 9 L9.5 16.6 M9.5 1.4 L7.2 3.8 M9.5 16.6 L7.2 14.2" fill="none" stroke="#c3c8d6" stroke-width="1.5" stroke-linecap="round" stroke-linejoin="round"/><path d="M1 9 H10.5 M8 6.4 L10.6 9 L8 11.6" fill="none" stroke="#c3c8d6" stroke-width="1.5" stroke-linecap="round" stroke-linejoin="round"/></svg>
<div class="nav" style="top:454px; color: rgb(255, 255, 255); letter-spacing: 0.13px; left: 49.1px;">Space overview</div>
<svg class="abs" style="left:279px;top:454px" width="20" height="20" viewBox="0 0 24 24"><path d="M12 8.6 a3.4 3.4 0 1 0 0 6.8 a3.4 3.4 0 1 0 0 -6.8 Z M10.1 2.5 h3.8 l.5 2.6 a7.3 7.3 0 0 1 1.9 1.1 l2.5 -.9 1.9 3.3 -2 1.7 a7.3 7.3 0 0 1 0 2.2 l2 1.7 -1.9 3.3 -2.5 -.9 a7.3 7.3 0 0 1 -1.9 1.1 l-.5 2.6 h-3.8 l-.5 -2.6 a7.3 7.3 0 0 1 -1.9 -1.1 l-2.5 .9 -1.9 -3.3 2 -1.7 a7.3 7.3 0 0 1 0 -2.2 l-2 -1.7 1.9 -3.3 2.5 .9 a7.3 7.3 0 0 1 1.9 -1.1 Z" fill="none" stroke="#c3c8d6" stroke-width="1.7" stroke-linejoin="round"/></svg>

<svg class="abs" style="left:24px;top:511px" width="11" height="7" viewBox="0 0 11 7"><path d="M1 1 L5.5 5.5 L10 1" fill="none" stroke="#aab1c4" stroke-width="1.4" stroke-linecap="round" stroke-linejoin="round"/></svg>
<div class="nav" style="top: 504px; color: rgb(195, 200, 214); letter-spacing: 0.35px; left: 49px;">Tools</div>

<svg class="ii" style="top:546px" width="18" height="18" viewBox="0 0 19 19"><rect x="1.8" y="2.2" width="15.2" height="14.8" rx="1.8" fill="none" stroke="#c3c8d6" stroke-width="1.6"/><path d="M9.2 2.2 V17 M1.8 9.8 H9.2" stroke="#c3c8d6" stroke-width="1.6"/></svg>
<div class="it" style="top:545px; letter-spacing: 0.16px; left: 79.4px;">Team dashboard</div>

<svg class="abs" style="left:24px;top:602px" width="11" height="7" viewBox="0 0 11 7"><path d="M1 1 L5.5 5.5 L10 1" fill="none" stroke="#aab1c4" stroke-width="1.4" stroke-linecap="round" stroke-linejoin="round"/></svg>
<div class="nav" style="top:596px; color: rgb(170, 177, 196); letter-spacing: 0.21px; left: 49.7px;">Projects and folders</div>
<svg class="abs" style="left:281px;top:598px" width="15" height="15" viewBox="0 0 15 15"><path d="M7.5 0.5 V14.5 M0.5 7.5 H14.5" stroke="#c3c8d6" stroke-width="1.4"/></svg>
<svg class="ii" style="top:636px;left:51px" width="15" height="18" viewBox="0 0 15 18"><rect x="1" y="2.6" width="13" height="14.4" rx="2" fill="none" stroke="#c3c8d6" stroke-width="1.5"/><rect x="4.2" y="0.8" width="6.6" height="3.4" rx="1" fill="#171e38" stroke="#c3c8d6" stroke-width="1.3"/><path d="M3.6 8.4 H11.4 M3.6 12 H11.4" stroke="#c3c8d6" stroke-width="1.5"/></svg>
<div class="it" style="top: 636px; letter-spacing: 0.12px; left: 80.8px;">1408418158: START DA...</div>
<svg class="ii" style="top:676px;left:51px" width="15" height="18" viewBox="0 0 15 18"><rect x="1" y="2.6" width="13" height="14.4" rx="2" fill="none" stroke="#c3c8d6" stroke-width="1.5"/><rect x="4.2" y="0.8" width="6.6" height="3.4" rx="1" fill="#171e38" stroke="#c3c8d6" stroke-width="1.3"/><path d="M3.6 8.4 H11.4 M3.6 12 H11.4" stroke="#c3c8d6" stroke-width="1.5"/></svg>
<div class="it" style="top: 676px; letter-spacing: 0.2px; left: 80.8px;">1408420563: DUE DATE</div>
<svg class="ii" style="top:717px;left:51px" width="15" height="18" viewBox="0 0 15 18"><rect x="1" y="2.6" width="13" height="14.4" rx="2" fill="none" stroke="#c3c8d6" stroke-width="1.5"/><rect x="4.2" y="0.8" width="6.6" height="3.4" rx="1" fill="#171e38" stroke="#c3c8d6" stroke-width="1.3"/><path d="M3.6 8.4 H11.4 M3.6 12 H11.4" stroke="#c3c8d6" stroke-width="1.5"/></svg>
<div class="it" style="top: 717px; letter-spacing: 0.36px; left: 80.8px;">1408422126: TASK B</div>
<svg class="ii" style="top:760px" width="19" height="15" viewBox="0 0 19 15"><path d="M1 2.4 Q1 1 2.4 1 H6.4 L8.4 3.2 H16.6 Q18 3.2 18 4.6 V12.6 Q18 14 16.6 14 H2.4 Q1 14 1 12.6 Z" fill="none" stroke="#c3c8d6" stroke-width="1.5" stroke-linejoin="round"/></svg>
<div class="it" style="top: 757px; letter-spacing: -0.32px; left: 80.2px;">Email</div>
<svg class="ii" style="top:798px;left:51px" width="15" height="18" viewBox="0 0 15 18"><rect x="1" y="2.6" width="13" height="14.4" rx="2" fill="none" stroke="#f8981d" stroke-width="1.5"/><rect x="4.2" y="0.8" width="6.6" height="3.4" rx="1" fill="#171e38" stroke="#f8981d" stroke-width="1.3"/><path d="M3.6 8.4 H11.4 M3.6 12 H11.4" stroke="#f8981d" stroke-width="1.5"/></svg>
<div class="it" style="top: 798px; letter-spacing: 0.31px; left: 80.2px;">First project</div>
<svg class="ii" style="top:838px;left:51px" width="15" height="18" viewBox="0 0 15 18"><rect x="1" y="2.6" width="13" height="14.4" rx="2" fill="none" stroke="#c3c8d6" stroke-width="1.5"/><rect x="4.2" y="0.8" width="6.6" height="3.4" rx="1" fill="#171e38" stroke="#c3c8d6" stroke-width="1.3"/><path d="M3.6 8.4 H11.4 M3.6 12 H11.4" stroke="#c3c8d6" stroke-width="1.5"/></svg>
<div class="it" style="top: 838px; letter-spacing: -0.49px; left: 80px;">ONBOARDING TASK</div>
<svg class="ii" style="top:882px" width="19" height="15" viewBox="0 0 19 15"><path d="M1 2.4 Q1 1 2.4 1 H6.4 L8.4 3.2 H16.6 Q18 3.2 18 4.6 V12.6 Q18 14 16.6 14 H2.4 Q1 14 1 12.6 Z" fill="none" stroke="#c3c8d6" stroke-width="1.5" stroke-linejoin="round"/></svg>
<div class="it" style="top: 879px; letter-spacing: 0.18px; left: 79.8px;">Step 1: Quick Start Guide</div>

<div class="it" style="top:921px;left:80px;opacity:.5">Step 2: Launch a Campaign</div><svg class="ii" style="top:924px;opacity:.5" width="19" height="15" viewBox="0 0 19 15"><path d="M1 2.4 Q1 1 2.4 1 H6.4 L8.4 3.2 H16.6 Q18 3.2 18 4.6 V12.6 Q18 14 16.6 14 H2.4 Q1 14 1 12.6 Z" fill="none" stroke="#c3c8d6" stroke-width="1.5"/></svg><!-- rocket -->
<svg class="abs" style="left:183px;top:799px" width="19" height="19" viewBox="0 0 19 19"><path d="M17.6 1.2 C12 1 7.4 4.6 5.6 9.4 L9.4 13.2 C14.2 11.4 17.8 6.8 17.6 1.2 Z" fill="#d9dde6"/><path d="M17.6 1.2 C15.4 1.1 13.6 1.6 12.4 2.4 L16.4 6.4 C17.2 5.2 17.7 3.4 17.6 1.2 Z" fill="#e0413a"/><circle cx="12.2" cy="6.6" r="1.7" fill="#4a90d9"/><path d="M6.4 7.6 L2.6 8.4 L5.2 10.2 Z M11.2 12.4 L10.4 16.2 L8.6 13.6 Z" fill="#e0413a"/><path d="M5.8 11.4 C3.6 12 2.2 14.4 1.6 17.2 C4.4 16.6 6.8 15.2 7.4 13 Z" fill="#f7a928"/><path d="M6 12.4 C4.8 13 3.8 14.2 3.4 15.4 C4.6 15 5.8 14 6.4 12.8 Z" fill="#fbe26a"/></svg>
<div class="abs" style="left:0;top:906px;width:323px;height:20px;background:linear-gradient(rgba(23,30,56,0),rgba(23,30,56,.92))"></div>
<div class="abs" style="left:0;top:926px;width:323px;height:2px;background:#2a375a"></div>
<div class="abs" style="left:0;top:928px;width:323px;height:52px;background:#171e38"></div>
<div class="abs" style="left:29px;top:938px;width:263px;height:31px;border-radius:8px;background:#2b3858"></div>
<svg class="abs" style="left:128px;top:946px" width="19" height="15" viewBox="0 0 19 15"><path d="M3.5 1 V7 M0.5 4 H6.5" stroke="#e6e9f0" stroke-width="1.3"/><circle cx="11.6" cy="4.2" r="2.9" fill="none" stroke="#e6e9f0" stroke-width="1.3"/><path d="M5.8 13.4 C6.3 10.6 8.8 9.6 11.6 9.6 C14.4 9.6 16.9 10.6 17.4 13.4 Z" fill="none" stroke="#e6e9f0" stroke-width="1.3" stroke-linejoin="round"/></svg>
<div class="t" style="left: 154.2px; top: 946px; font-size: 15.5px; color: rgb(230, 233, 240); letter-spacing: 0.03px;">Invite</div>
</div>
<div id="chrome"><div class="abs" style="left:0;top:0;width:1802px;height:1px;background:#141414;z-index:50"></div><div class="abs" style="left:0;top:0;width:1px;height:980px;background:#0c0c10;z-index:50"></div><div class="abs" style="left:1801px;top:0;width:1px;height:980px;background:#101010;z-index:50"></div><div class="abs" style="left:0;top:979px;width:1802px;height:1px;background:#101010;z-index:50"></div><svg class="abs" style="left:1760px;top:938px;z-index:49" width="42" height="42" viewBox="0 0 42 42"><path d="M5 41 L41 5 V31 Q41 41 31 41 Z" fill="#7d7d7d"/><path d="M41 30 Q41 41 30 41 H42 V30 Z" fill="#101010"/></svg><svg class="abs" style="left:0;top:966px;z-index:49" width="14" height="14" viewBox="0 0 14 14"><path d="M0 0 V14 H14 V13 H12 Q1 13 1 2 V0 Z" fill="#0c0c10"/></svg></div>
</body>
</html>
